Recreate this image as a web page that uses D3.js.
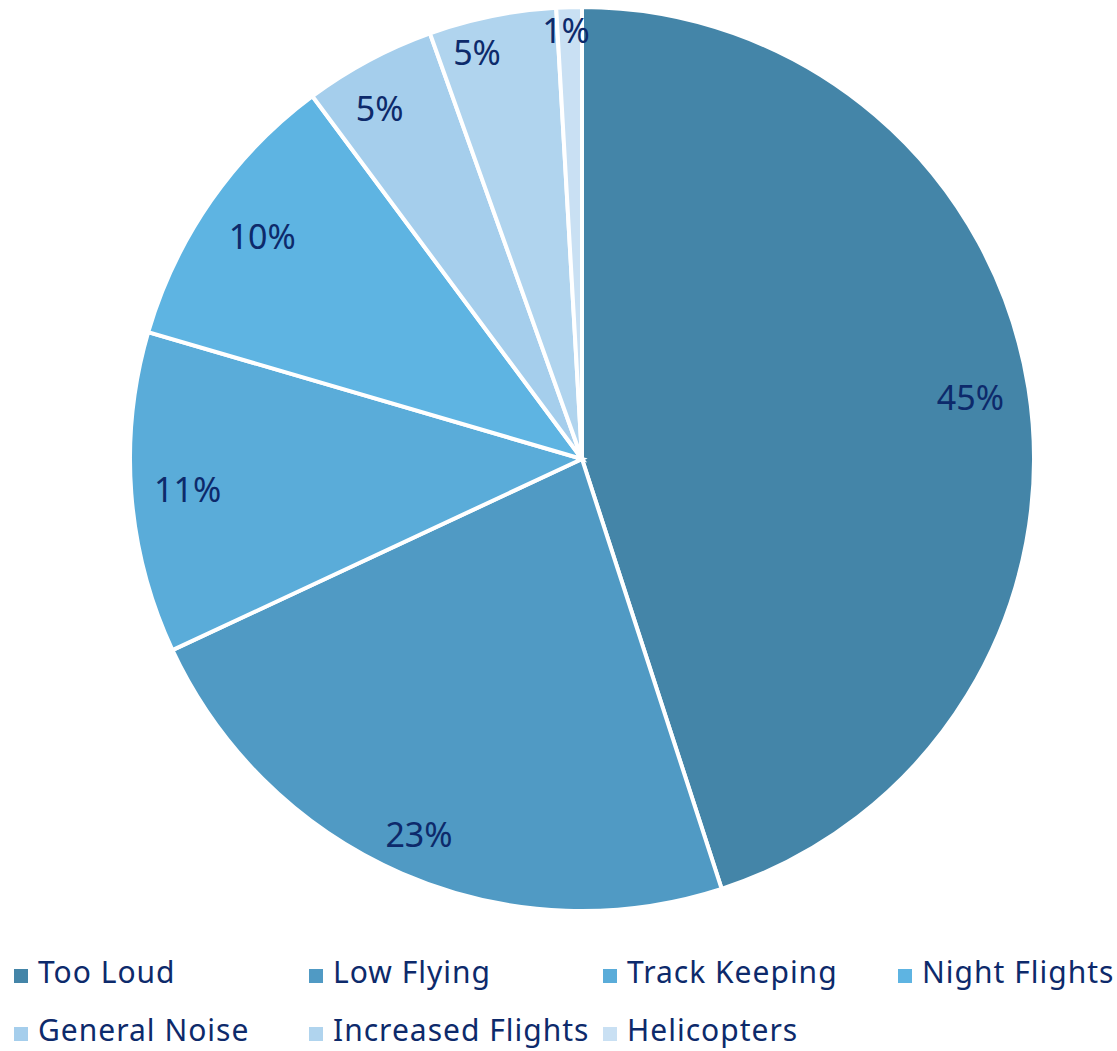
<!DOCTYPE html>
<html><head><meta charset="utf-8">
<script src="https://cdn.jsdelivr.net/npm/d3@7"></script>
<style>html,body{margin:0;padding:0;background:#fff;}</style>
</head><body><svg id="c" width="1117" height="1051"></svg>
<script>
const categories = ["Too Loud","Low Flying","Track Keeping","Night Flights","General Noise","Increased Flights","Helicopters"];
const values = [45.0, 23.05, 11.48, 10.3, 4.71, 4.55, 0.91];
const colors = ["#4485A8","#509AC4","#5AACD9","#5EB4E2","#A5CEEC","#B0D4EE","#C9E0F3"];
const labelRadiusFactors = [0.87, 0.905, 0.875, 0.862, 0.897, 0.93, 0.95];
const labelAngleOffsets = [0, 0, 0, 0, -1.8, -3, -0.5];

const svg = d3.select("#c");
const cx = 582, cy = 459, R = 452;
const textColor = "#0D2A6B";
const font = "'Noto Sans', sans-serif";

const pie = d3.pie().sort(null).value(d => d)(values);
const arc = d3.arc().innerRadius(0).outerRadius(R);
const g = svg.append("g").attr("transform", `translate(${cx},${cy})`);
g.selectAll("path").data(pie).join("path")
  .attr("d", arc).attr("fill", (d,i) => colors[i])
  .attr("stroke", "#fff").attr("stroke-width", 4).attr("stroke-linejoin","miter");

g.selectAll("text").data(pie).join("text")
  .attr("transform", (d,i) => {
    const a = (d.startAngle + d.endAngle)/2 + labelAngleOffsets[i] * Math.PI / 180;
    const r = R * labelRadiusFactors[i];
    return `translate(${r*Math.sin(a)},${-r*Math.cos(a)})`;
  })
  .attr("text-anchor","middle").attr("dominant-baseline","central")
  .attr("font-family", font).attr("font-size", 34).attr("fill", textColor)
  .text(d => Math.round(d.value) + "%");

const leg = svg.append("g");
const colX = [14, 309, 603, 898];
const rowY = [983, 1041];
categories.forEach((c, i) => {
  const col = i % 4, row = Math.floor(i / 4);
  const item = leg.append("g").attr("transform", `translate(${colX[col]},${rowY[row]})`);
  item.append("rect").attr("x",0).attr("y",-14).attr("width",14).attr("height",14).attr("fill", colors[i]);
  item.append("text").attr("x", 24).attr("y", 0)
    .attr("font-family", font).attr("font-size", 30).attr("letter-spacing", 1.0)
    .attr("fill", textColor).text(c);
});
</script></body></html>
